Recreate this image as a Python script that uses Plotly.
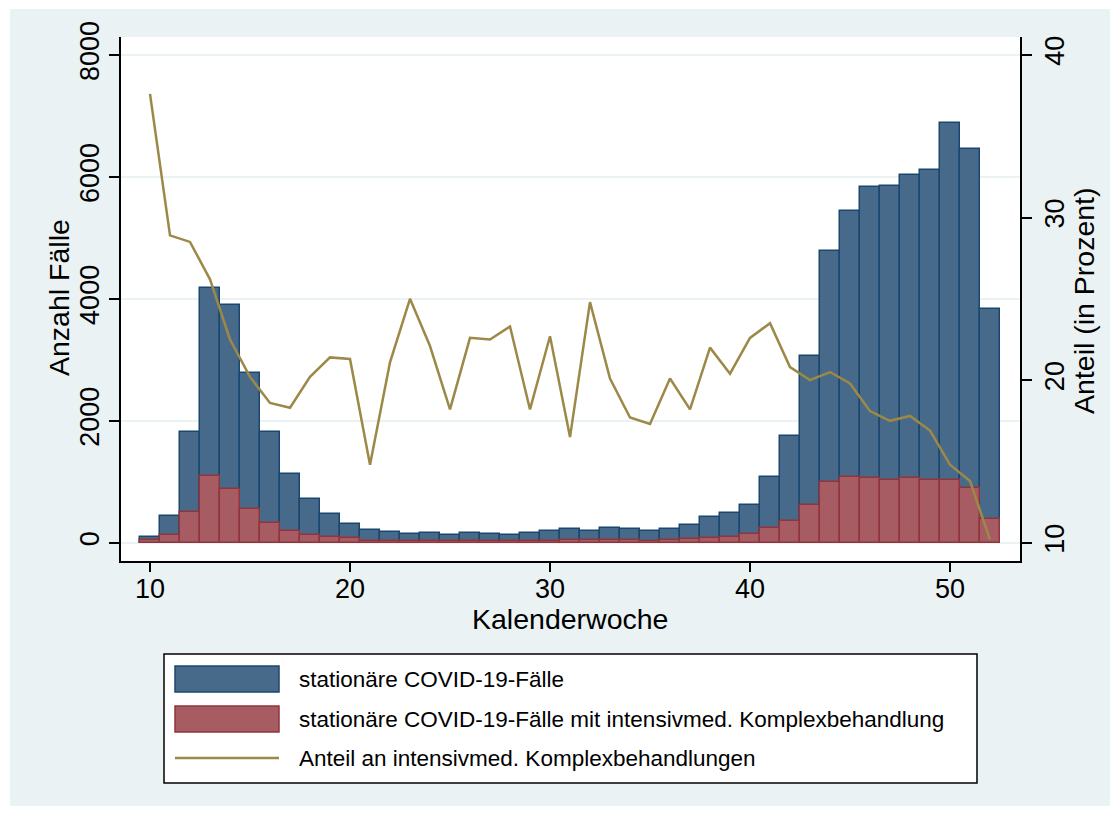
import plotly.graph_objects as go

# =========================
# data
weeks = list(range(10, 53))

stationaer = [89, 443, 1821, 4180, 3897, 2785, 1821, 1129, 720, 476,
              310, 216, 183, 144, 169, 131, 164, 147, 131, 164,
              191, 229, 197, 246, 224, 191, 229, 295, 420, 491,
              622, 1081, 1754, 3060, 4786, 5445, 5838, 5855, 6026, 6114,
              6889, 6457, 3840]

intensiv = [44, 122, 509, 1096, 886, 559, 327, 199, 133, 100,
            72, 30, 30, 33, 35, 28, 33, 30, 28, 30,
            38, 45, 52, 52, 40, 35, 42, 55, 87, 98,
            137, 246, 360, 614, 991, 1074, 1057, 1024, 1068, 1035,
            1024, 891, 393]

anteil = [37.6, 28.9, 28.5, 26.2, 22.5, 20.2, 18.6, 18.3, 20.2, 21.4,
          21.3, 14.8, 21.1, 25.0, 22.1, 18.2, 22.6, 22.5, 23.3, 18.2,
          22.7, 16.5, 24.8, 20.1, 17.7, 17.3, 20.1, 18.2, 22.0, 20.4,
          22.6, 23.5, 20.8, 20.0, 20.5, 19.8, 18.1, 17.5, 17.8, 16.9,
          14.8, 13.8, 10.2]

left_ticks = [0, 2000, 4000, 6000, 8000]
right_ticks = [10, 20, 30, 40]
x_ticks = [10, 20, 30, 40, 50]

legend_labels = [
    "stationäre COVID-19-Fälle",
    "stationäre COVID-19-Fälle mit intensivmed. Komplexbehandlung",
    "Anteil an intensivmed. Komplexbehandlungen",
]

# =========================
# colours (Stata s2color look)
BG = "#EAF2F3"
NAVY_FILL = "#486A8A"
NAVY_LINE = "#1A476F"
RED_FILL = "#A65C62"
RED_LINE = "#90353B"
KHAKI = "#9C8847"
FONT = "Liberation Sans, Arial, sans-serif"

# =========================
# page geometry in pixels (page = browser window, body has an 8px margin)
PAGE_W, PAGE_H = 1120, 816
OFF = 8
W, H = PAGE_W - OFF, PAGE_H - OFF
L, R, T, B = 121, 1020, 37, 561   # plot area on the page


def px(x):
    return (x - L) / (R - L)


def py(y):
    return (B - y) / (B - T)


fig = go.Figure()

fig.add_trace(go.Bar(
    x=weeks, y=stationaer, width=1,
    marker=dict(color=NAVY_FILL, line=dict(color=NAVY_LINE, width=1.5)),
    name=legend_labels[0], showlegend=False,
))
fig.add_trace(go.Bar(
    x=weeks, y=intensiv, width=1,
    marker=dict(color=RED_FILL, line=dict(color=RED_LINE, width=1.5)),
    name=legend_labels[1], showlegend=False,
))
fig.add_trace(go.Scatter(
    x=weeks, y=anteil, yaxis="y2", mode="lines",
    line=dict(color=KHAKI, width=2.5),
    name=legend_labels[2], showlegend=False,
))

axis_font = dict(family=FONT, size=27, color="black")
title_font = dict(family=FONT, size=28.5, color="black")

fig.update_layout(
    width=W, height=H,
    margin=dict(l=L - OFF, r=W - (R - OFF), t=T - OFF, b=H - (B - OFF), autoexpand=False),
    paper_bgcolor=BG,
    plot_bgcolor="white",
    barmode="overlay",
    bargap=0,
    font=dict(family=FONT, color="black"),
    xaxis=dict(
        range=[8.55, 53.5], tickvals=x_ticks, showgrid=False, zeroline=False,
        showline=True, linecolor="black", linewidth=1.5,
        ticks="outside", ticklen=9, tickwidth=1.5, tickcolor="black",
        tickfont=axis_font, ticklabelstandoff=-6,
    ),
    yaxis=dict(
        range=[-298, 8295], tickvals=left_ticks, tickangle=-90,
        showgrid=True, gridcolor=BG, gridwidth=2, zeroline=False,
        showline=True, linecolor="black", linewidth=1.5,
        ticks="outside", ticklen=10, tickwidth=1.5, tickcolor="black",
        tickfont=axis_font, ticklabelstandoff=-1,
    ),
    yaxis2=dict(
        range=[8.88, 41.1], tickvals=right_ticks, tickangle=-90,
        overlaying="y", side="right", showgrid=False, zeroline=False,
        showline=True, linecolor="black", linewidth=1.5,
        ticks="outside", ticklen=10, tickwidth=1.5, tickcolor="black",
        tickfont=axis_font, ticklabelstandoff=0,
    ),
)

# axis titles
fig.add_annotation(text="Kalenderwoche", x=px(570), y=py(619), xref="paper", yref="paper",
                   showarrow=False, font=title_font, xanchor="center", yanchor="middle")
fig.add_annotation(text="Anzahl Fälle", x=px(59), y=py(298), xref="paper", yref="paper",
                   showarrow=False, textangle=-90, font=title_font,
                   xanchor="center", yanchor="middle")
fig.add_annotation(text="Anteil (in Prozent)", x=px(1084), y=py(301), xref="paper", yref="paper",
                   showarrow=False, textangle=-90, font=title_font,
                   xanchor="center", yanchor="middle")

# white frame round the grey page
for x0, x1, y0, y1 in [(0, 10, 0, PAGE_H), (1110, PAGE_W, 0, PAGE_H),
                       (0, PAGE_W, 0, 9), (0, PAGE_W, 806, PAGE_H)]:
    fig.add_shape(type="rect", xref="paper", yref="paper",
                  x0=px(x0), x1=px(x1), y0=py(y1), y1=py(y0),
                  line=dict(width=0), fillcolor="white", layer="above")

# legend box drawn by hand (Stata style wide keys)
fig.add_shape(type="rect", xref="paper", yref="paper",
              x0=px(164), x1=px(977), y0=py(783), y1=py(654),
              line=dict(color="black", width=1.5), fillcolor="white", layer="above")
fig.add_shape(type="rect", xref="paper", yref="paper",
              x0=px(175), x1=px(279), y0=py(692), y1=py(666),
              line=dict(color=NAVY_LINE, width=1.5), fillcolor=NAVY_FILL, layer="above")
fig.add_shape(type="rect", xref="paper", yref="paper",
              x0=px(175), x1=px(279), y0=py(732), y1=py(706),
              line=dict(color=RED_LINE, width=1.5), fillcolor=RED_FILL, layer="above")
fig.add_shape(type="line", xref="paper", yref="paper",
              x0=px(175), x1=px(279), y0=py(758), y1=py(758),
              line=dict(color=KHAKI, width=2.5), layer="above")

for label, yc in zip(legend_labels, [679, 719, 758]):
    fig.add_annotation(text=label, x=px(297), y=py(yc), xref="paper", yref="paper",
                       showarrow=False, xanchor="left", yanchor="middle",
                       font=dict(family=FONT, size=22.5, color="black"))

fig.write_html("out.html")
